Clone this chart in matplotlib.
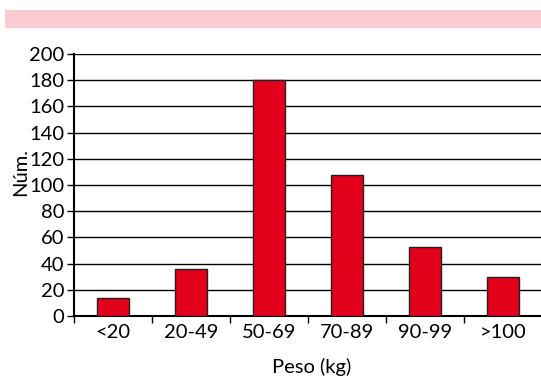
import matplotlib
matplotlib.use("Agg")
import matplotlib.pyplot as plt
from matplotlib.patches import Rectangle
import numpy as np

categories = ["<20", "20-49", "50-69", "70-89", "90-99", ">100"]
values = [14, 36, 180, 108, 53, 30]
yticks = list(range(0, 201, 20))

plt.rcParams['font.family'] = ['Lato', 'DejaVu Sans']
FS = 14.5

W, H = 541, 377
fig = plt.figure(figsize=(W/100, H/100), dpi=100)
fig.patches.append(Rectangle((5/W, 1-28/H), 1-5/W, 18/H, transform=fig.transFigure,
                             facecolor="#FACBD3", edgecolor="none"))
ax = fig.add_axes([74/W, 1-316/H, (542-74)/W, (316-54)/H])

x = np.arange(len(categories))
ax.bar(x, values, width=0.4, color="#E2001A", edgecolor="#222222", linewidth=1, zorder=3)
ax.set_xlim(-0.5, len(categories)-0.5)
ax.set_ylim(0, 200)
ax.set_yticks(yticks)
ax.set_yticklabels([str(v) for v in yticks], fontsize=FS)
ax.yaxis.grid(True, color="black", linewidth=1)
ax.set_axisbelow(True)
ax.set_xticks(x)
ax.set_xticklabels(categories, fontsize=FS)
ax.set_xticks(np.arange(-0.5, len(categories)), minor=True)
ax.tick_params(axis='x', which='major', length=0, pad=6)
ax.tick_params(axis='x', which='minor', length=5, width=1, direction='out')
ax.tick_params(axis='y', length=5, width=1, direction='out', pad=2)
for s in ['top', 'right']:
    ax.spines[s].set_visible(False)
for s in ['left', 'bottom']:
    ax.spines[s].set_linewidth(1.5)
    ax.spines[s].set_color("black")

fig.text(21/W, 1-172/H, "Núm.", rotation=90, ha='center', va='center', fontsize=FS)
fig.text(312/W, 1-367/H, "Peso (kg)", ha='center', va='center', fontsize=FS)

fig.savefig("out.png", dpi=100)
